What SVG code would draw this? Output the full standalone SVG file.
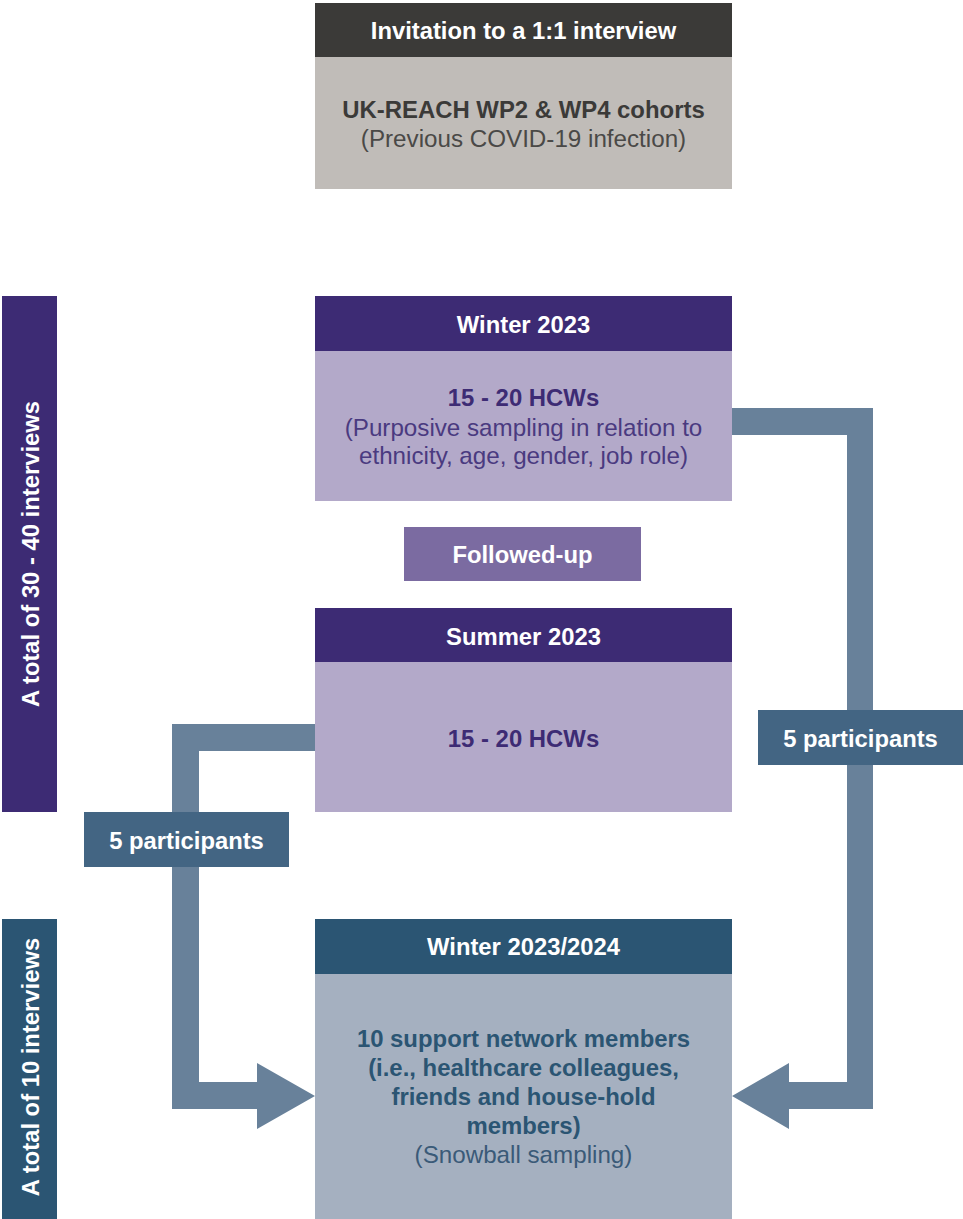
<svg xmlns="http://www.w3.org/2000/svg" width="963" height="1219" viewBox="0 0 963 1219">
<style>
text{font-family:"Liberation Sans",Arial,Helvetica,sans-serif;text-anchor:middle}
.h{font-weight:bold;font-size:23.8px;fill:#ffffff}
.b{font-weight:bold;font-size:23.9px}
.r{font-size:24.2px}
.arrow{fill:#68819a}
.lab{fill:#436583}
</style>
<rect width="963" height="1219" fill="#ffffff"/>
<g id="connectors">
<polygon class="arrow" points="732,408 873,408 873,1109 789,1109 789,1129 732,1096 789,1063 789,1082 847,1082 847,435 732,435"/>
<polygon class="arrow" points="315,724 172,724 172,1109 257,1109 257,1129 315,1096 257,1063 257,1082 199,1082 199,751 315,751"/>
</g>
<g id="invitation">
<rect x="315" y="3" width="417" height="54" fill="#3b3a38"/>
<rect x="315" y="57" width="417" height="132" fill="#c0bcb8"/>
<text class="h" x="523.5" y="38.5">Invitation to a 1:1 interview</text>
<text class="b" x="523.5" y="117.5" fill="#3b3a38">UK-REACH WP2 &amp; WP4 cohorts</text>
<text class="r" x="523.5" y="147" fill="#4a4947">(Previous COVID-19 infection)</text>
</g>
<g id="side-30-40">
<rect x="2" y="296" width="55" height="516" fill="#3d2b74"/>
<text class="h" transform="translate(39,554) rotate(-90)" x="0" y="0">A total of 30 - 40 interviews</text>
</g>
<g id="side-10">
<rect x="2" y="919" width="55" height="300" fill="#2b5573"/>
<text class="h" transform="translate(39,1067) rotate(-90)" x="0" y="0">A total of 10 interviews</text>
</g>
<g id="winter2023">
<rect x="315" y="296" width="417" height="55" fill="#3d2b74"/>
<rect x="315" y="351" width="417" height="150" fill="#b3a9c9"/>
<text class="h" x="523.5" y="332.5">Winter 2023</text>
<text class="b" x="523.5" y="405.5" fill="#3d2b74">15 - 20 HCWs</text>
<text class="r" x="523.5" y="435.5" fill="#4a3a80">(Purposive sampling in relation to</text>
<text class="r" x="523.5" y="463.5" fill="#4a3a80">ethnicity, age, gender, job role)</text>
</g>
<g id="followed-up">
<rect x="404" y="527" width="237" height="54" fill="#7b6ba1"/>
<text class="h" x="522.5" y="562.5">Followed-up</text>
</g>
<g id="summer2023">
<rect x="315" y="608" width="417" height="54" fill="#3d2b74"/>
<rect x="315" y="662" width="417" height="150" fill="#b3a9c9"/>
<text class="h" x="523.5" y="644.5">Summer 2023</text>
<text class="b" x="523.5" y="746.5" fill="#3d2b74">15 - 20 HCWs</text>
</g>
<g id="winter20232024">
<rect x="315" y="919" width="417" height="55" fill="#2b5573"/>
<rect x="315" y="974" width="417" height="245" fill="#a5b0c0"/>
<text class="h" x="523.5" y="954.5">Winter 2023/2024</text>
<text class="b" x="523.5" y="1046.5" fill="#2b5573">10 support network members</text>
<text class="b" x="523.5" y="1075.5" fill="#2b5573">(i.e., healthcare colleagues,</text>
<text class="b" x="523.5" y="1104.5" fill="#2b5573">friends and house-hold</text>
<text class="b" x="523.5" y="1133.5" fill="#2b5573">members)</text>
<text class="r" x="523.5" y="1162.5" fill="#3a5a78">(Snowball sampling)</text>
</g>
<g id="label-right">
<rect class="lab" x="758" y="710" width="205" height="55"/>
<text class="h" x="860.5" y="746.5">5 participants</text>
</g>
<g id="label-left">
<rect class="lab" x="84" y="812" width="205" height="55"/>
<text class="h" x="186.5" y="848.5">5 participants</text>
</g>
</svg>
